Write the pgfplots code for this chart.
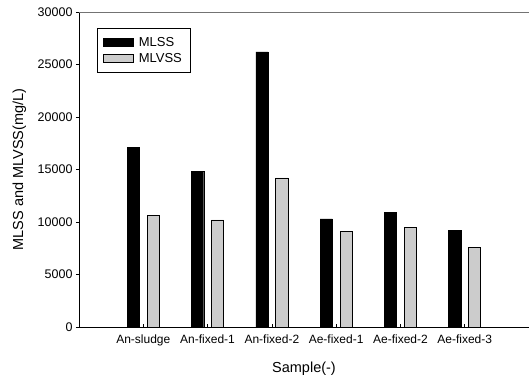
\documentclass[border=0pt]{standalone}
\usepackage{fontspec}
\setmainfont{Liberation Sans}
\usepackage{pgfplots}
\pgfplotsset{compat=1.18}
\begin{document}
\begin{tikzpicture}
\begin{axis}[name=ax, scale only axis, width=450pt, height=315pt,
  xmin=0, xmax=7, ymin=0, ymax=30000,
  axis x line*=bottom, axis y line*=left,
  axis line style={line width=0.8pt, -},
  ybar, bar width=0.19,
  xtick={1,2,3,4,5,6},
  xticklabels={An-sludge,An-fixed-1,An-fixed-2,Ae-fixed-1,Ae-fixed-2,Ae-fixed-3},
  ytick={0,5000,10000,15000,20000,25000,30000},
  scaled y ticks=false,
  /pgf/number format/assume math mode=true,
  /pgf/number format/.cd, fixed, 1000 sep={}, /pgfplots/.cd,
  yticklabel style={font=\fontsize{12.5}{14}\selectfont},
  xticklabel style={font=\fontsize{12}{14}\selectfont, yshift=-4pt},
  xtick align=inside, ytick align=outside,
  major tick length=3pt,
  tick style={black, line width=0.6pt},
  xlabel={Sample(-)}, ylabel={MLSS and MLVSS(mg/L)},
  label style={font=\fontsize{14.5}{16}\selectfont},
  xlabel style={at={(axis description cs:0.5,0)}, anchor=base, yshift=-45.4pt},
  ylabel style={at={(axis description cs:-0.1244,0.5)}, anchor=base},
  legend style={at={(rel axis cs:0.04,0.95)}, anchor=north west, draw=black, line width=0.6pt,
    font=\fontsize{13}{15}\selectfont, row sep=1.5pt, inner xsep=6pt, inner ysep=7pt,
    /tikz/every odd column/.append style={column sep=3pt}},
  legend cell align=left,
  legend image code/.code={\draw[#1, line width=0.5pt] (0pt,-4pt) rectangle (30pt,4pt);},
]
\addplot[fill=black, draw=black, bar shift=-0.155] coordinates {
  (1,17100) (2,14800) (3,26200) (4,10300) (5,10900) (6,9200)};
\addplot[fill=black!20, draw=black, line width=0.6pt, bar shift=0.155] coordinates {
  (1,10600) (2,10200) (3,14200) (4,9100) (5,9500) (6,7600)};
\legend{MLSS, MLVSS}
\end{axis}
\draw[black!55, line width=0.8pt] (ax.north west) -- (ax.north east);
\pgfresetboundingbox
\path ([shift={(-79pt,-51pt)}]ax.south west) rectangle ([shift={(0pt,12pt)}]ax.north east);
\end{tikzpicture}
\end{document}
